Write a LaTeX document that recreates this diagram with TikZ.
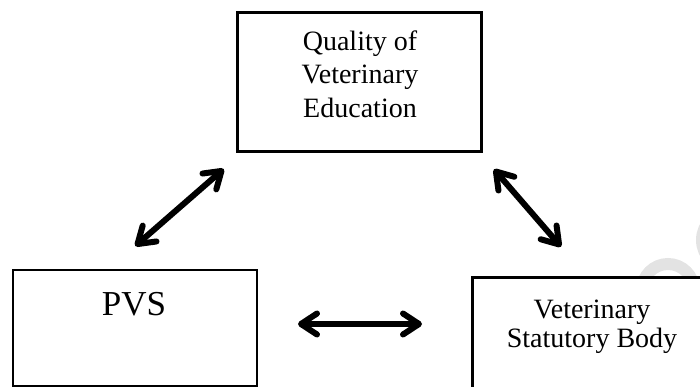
\documentclass[tikz,border=0pt]{standalone}
\usepackage{fontspec}
\setmainfont{Liberation Serif}
\usetikzlibrary{arrows.meta}
\begin{document}
\begin{tikzpicture}[x=1pt,y=-1pt,
  boxstyle/.style={draw=black,line width=3pt,fill=white,inner sep=0pt},
  txt/.style={inner sep=0pt,align=center,font=\fontsize{28}{33.5}\selectfont},
  dblarrow/.style={line width=6pt,{Straight Barb[round,length=16pt,width=21pt]}-{Straight Barb[round,length=16pt,width=21pt]},line cap=round,shorten <=3pt,shorten >=3pt},
  wm/.style={draw=gray!22,line width=12pt}]
\useasboundingbox (0,0) rectangle (700,387);
% faint watermark pieces
\draw[wm] (668,290) circle[radius=26];
\draw[wm] (730,240) circle[radius=28];
% boxes
\node[boxstyle,minimum width=244pt,minimum height=139pt] (qbox) at (359,82.5) {};
\node[boxstyle,line width=2.6pt,minimum width=244pt,minimum height=116pt] (pbox) at (135,328) {};
\node[boxstyle,minimum width=320pt,minimum height=160pt,anchor=north west] (vbox) at (471,276) {};
% texts
\node[txt] (qtext) at (360,74) {Quality of\\Veterinary\\Education};
\node[inner sep=0pt,font=\fontsize{35}{40}\selectfont,anchor=base] (ptext) at (134,315) {PVS};
\node[txt,font=\fontsize{28}{29}\selectfont,anchor=base] (vtext) at (592,347) {Veterinary\\Statutory Body};
% arrow end points
\coordinate (a1) at (133,248);
\coordinate (a2) at (226,167);
\coordinate (b1) at (492,167);
\coordinate (b2) at (563,249);
\coordinate (c1) at (295,324);
\coordinate (c2) at (425,324);
\draw[dblarrow] (a1) -- (a2);
\draw[dblarrow] (b1) -- (b2);
\draw[dblarrow] (c1) -- (c2);
\end{tikzpicture}
\end{document}
